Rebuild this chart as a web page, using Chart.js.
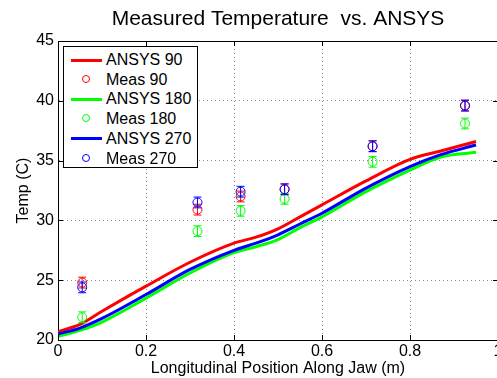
<!DOCTYPE html>
<html>
<head>
<meta charset="utf-8">
<script src="https://cdn.jsdelivr.net/npm/chart.js@4.4.1/dist/chart.umd.min.js"></script>
<style>
  html, body { margin: 0; padding: 0; background: #fff; overflow: hidden; width: 497px; height: 378px; }
  #wrap { position: absolute; left: 0; top: 0; width: 510px; height: 378px; }
  #legend { position: absolute; left: 63px; top: 46px; width: 133px; height: 120px; border: 1px solid #000; background: #fff;
            font-family: "Liberation Sans", Arial, sans-serif; font-size: 16px; color: #000; z-index: 2; }
  .row { position: absolute; left: 0; height: 20px; width: 133px; }
  .sw { position: absolute; left: 7px; width: 31px; height: 3px; top: 8.5px; }
  .mk { position: absolute; left: 18px; top: 5px; width: 8px; height: 8px; border-radius: 50%; border: 1px solid; box-sizing: border-box; }
  .tx { position: absolute; left: 42px; top: 0px; line-height: 20px; white-space: nowrap; }
</style>
</head>
<body>
<div id="wrap"><canvas id="c" width="510" height="378"></canvas></div>
<div id="legend"></div>
<script>
// ---- data ----
const ansysX   = [0, 0.05, 0.1, 0.2, 0.3, 0.4, 0.45, 0.5, 0.55, 0.6, 0.7, 0.8, 0.87, 0.95];
const ansys90  = [20.7, 21.3, 22.4, 24.5, 26.5, 28.1, 28.6, 29.3, 30.3, 31.3, 33.3, 35.1, 35.8, 36.6];
const ansys180 = [20.3, 20.8, 21.5, 23.5, 25.6, 27.3, 27.8, 28.4, 29.4, 30.3, 32.4, 34.2, 35.3, 35.7];
const ansys270 = [20.5, 21.0, 21.8, 23.8, 25.9, 27.5, 28.1, 28.8, 29.7, 30.6, 32.7, 34.5, 35.5, 36.3];
const measX    = [0.055, 0.317, 0.415, 0.515, 0.715, 0.925];
const meas90   = [24.8, 30.9, 32.0, 32.6, 36.2, 39.6];
const meas180  = [21.9, 29.1, 30.8, 31.8, 34.9, 38.1];
const meas270  = [24.4, 31.5, 32.4, 32.6, 36.2, 39.6];
const measErr  = [0.45, 0.45, 0.45, 0.45, 0.45, 0.45];
const xTicks   = [0, 0.2, 0.4, 0.6, 0.8, 1];
const yTicks   = [20, 25, 30, 35, 40, 45];
const seriesNames = ['ANSYS 90', 'Meas 90', 'ANSYS 180', 'Meas 180', 'ANSYS 270', 'Meas 270'];

const RED = '#ff0000', GREEN = '#00ff00', BLUE = '#0000ff';
const pts = (xs, ys) => xs.map((x, i) => ({x: x, y: ys[i]}));

function lineDs(label, ys, color) {
  return { label, type: 'line', data: pts(ansysX, ys), borderColor: color, backgroundColor: color,
           borderWidth: 3, pointRadius: 0, cubicInterpolationMode: 'monotone', fill: false, kind: 'line' };
}
function measDs(label, ys, color) {
  return { label, type: 'line', data: pts(measX, ys), showLine: false, borderColor: color,
           backgroundColor: 'rgba(0,0,0,0)', pointStyle: 'circle', pointRadius: 4.5, pointBorderWidth: 1,
           pointBackgroundColor: 'rgba(0,0,0,0)', pointBorderColor: color, errors: measErr, kind: 'meas' };
}

const datasets = [
  lineDs(seriesNames[0], ansys90, RED),
  measDs(seriesNames[1], meas90, RED),
  lineDs(seriesNames[2], ansys180, GREEN),
  measDs(seriesNames[3], meas180, GREEN),
  lineDs(seriesNames[4], ansys270, BLUE),
  measDs(seriesNames[5], meas270, BLUE)
];
// later series drawn on top (as in the original plotting order)
datasets.forEach((ds, i) => { ds.order = datasets.length - i; });

const FONT = '"Liberation Sans", Arial, Helvetica, sans-serif';

const errorBars = {
  id: 'errorBars',
  afterDatasetDraw(chart, args) {
    const ds = chart.data.datasets[args.index];
    if (!ds.errors) return;
    const ctx = chart.ctx, ys = chart.scales.y, xs = chart.scales.x;
    ctx.save();
    ctx.strokeStyle = ds.borderColor;
    ctx.lineWidth = 1;
    ds.data.forEach((p, i) => {
      const px = xs.getPixelForValue(p.x);
      const y1 = ys.getPixelForValue(p.y - ds.errors[i]);
      const y2 = ys.getPixelForValue(p.y + ds.errors[i]);
      ctx.beginPath();
      ctx.moveTo(px, y1); ctx.lineTo(px, y2);
      ctx.moveTo(px - 4, y1); ctx.lineTo(px + 4, y1);
      ctx.moveTo(px - 4, y2); ctx.lineTo(px + 4, y2);
      ctx.stroke();
    });
    ctx.restore();
  }
};

const boxTicks = {
  id: 'boxTicks',
  afterDraw(chart) {
    const {ctx, chartArea: a, scales} = chart;
    ctx.save();
    ctx.strokeStyle = '#000';
    ctx.lineWidth = 1;
    ctx.beginPath();
    ctx.moveTo(a.left, a.top + 0.5); ctx.lineTo(a.right, a.top + 0.5);
    ctx.moveTo(a.right - 0.5, a.top); ctx.lineTo(a.right - 0.5, a.bottom);
    const L = 5;
    scales.x.ticks.forEach(t => {
      const px = Math.round(scales.x.getPixelForValue(t.value)) + 0.5;
      ctx.moveTo(px, a.bottom); ctx.lineTo(px, a.bottom - L);
      ctx.moveTo(px, a.top); ctx.lineTo(px, a.top + L);
    });
    scales.y.ticks.forEach(t => {
      const py = Math.round(scales.y.getPixelForValue(t.value)) + 0.5;
      ctx.moveTo(a.left, py); ctx.lineTo(a.left + L, py);
      ctx.moveTo(a.right, py); ctx.lineTo(a.right - L, py);
    });
    ctx.stroke();
    ctx.restore();
  }
};

const chart = new Chart(document.getElementById('c'), {
  type: 'line',
  data: { datasets },
  options: {
    responsive: false,
    animation: false,
    layout: { padding: { left: 0, right: 12, top: 0, bottom: 0 } },
    plugins: {
      legend: { display: false },
      tooltip: { enabled: false },
      title: {
        display: true, fullSize: false,
        text: 'Measured Temperature  vs. ANSYS',
        color: '#000',
        font: { family: FONT, size: 21, weight: 'normal', lineHeight: 1.2 },
        padding: { top: 7, bottom: 8.8 }
      }
    },
    scales: {
      x: {
        type: 'linear', min: 0, max: 1,
        afterBuildTicks: s => { s.ticks = xTicks.map(v => ({value: v})); },
        afterFit: s => { s.height = 38; },
        ticks: { color: '#000', font: { family: FONT, size: 16 }, padding: 2, maxRotation: 0,
                 callback: v => String(v) },
        grid: { color: '#888', drawTicks: false, lineWidth: 1 },
        border: { display: true, color: '#000', width: 1, dash: [1, 3] },
        title: { display: true, text: 'Longitudinal Position Along Jaw (m)', color: '#000',
                 font: { family: FONT, size: 16, lineHeight: 1.2 }, padding: { top: 0, bottom: 0 } }
      },
      y: {
        type: 'linear', min: 20, max: 45,
        afterBuildTicks: s => { s.ticks = yTicks.map(v => ({value: v})); },
        afterFit: s => { s.width = 58; },
        ticks: { color: '#000', font: { family: FONT, size: 16 }, padding: 4,
                 callback: v => String(v) },
        grid: { color: '#888', drawTicks: false, lineWidth: 1 },
        border: { display: true, color: '#000', width: 1, dash: [1, 3] },
        title: { display: true, text: 'Temp (C)', color: '#000',
                 font: { family: FONT, size: 16, lineHeight: 1.2 }, padding: { top: 14, bottom: 0 } }
      }
    }
  },
  plugins: [errorBars, boxTicks]
});

// HTML legend built from datasets
const lg = document.getElementById('legend');
datasets.forEach((ds, i) => {
  const row = document.createElement('div');
  row.className = 'row';
  row.style.top = (3 + i * 19.7) + 'px';
  const color = ds.kind === 'line' ? ds.borderColor : ds.pointBorderColor;
  if (ds.kind === 'line') {
    const sw = document.createElement('div'); sw.className = 'sw'; sw.style.background = color; row.appendChild(sw);
  } else {
    const mk = document.createElement('div'); mk.className = 'mk'; mk.style.borderColor = color; row.appendChild(mk);
  }
  const tx = document.createElement('div'); tx.className = 'tx'; tx.textContent = ds.label; row.appendChild(tx);
  lg.appendChild(row);
});
</script>
</body>
</html>
